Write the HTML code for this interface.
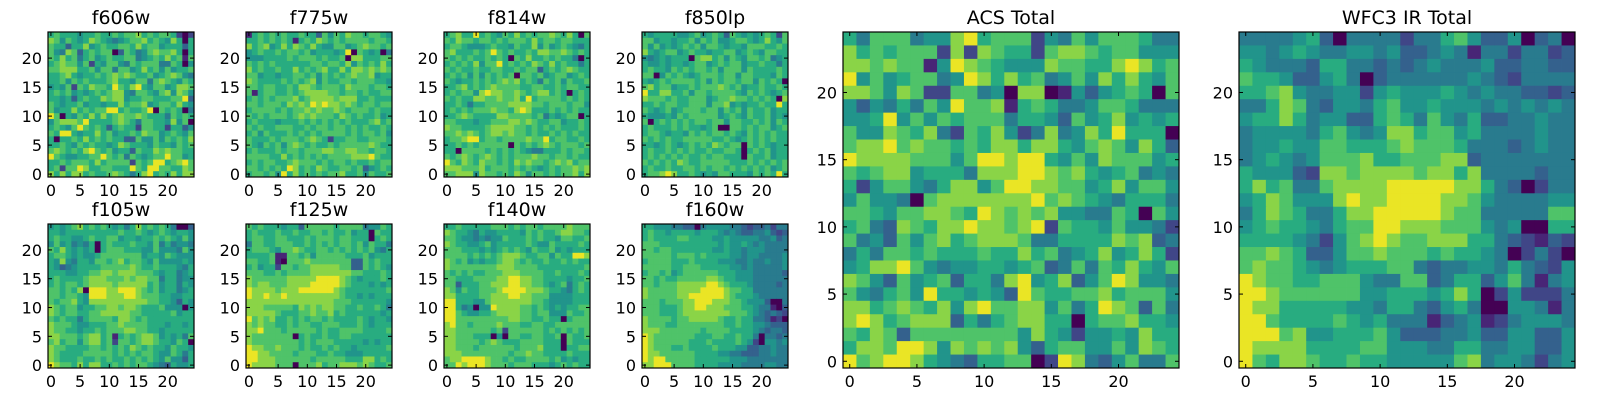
<!DOCTYPE html>
<html><head><meta charset="utf-8"><style>
html,body{margin:0;padding:0;background:#fff;}
svg{display:block;font-family:"DejaVu Sans","Liberation Sans",sans-serif;}
</style></head><body>
<svg id="fig" width="1600" height="400" viewBox="0 0 1600 400" xmlns="http://www.w3.org/2000/svg"></svg>
<script>
// Panel titles
const titles = ["f606w","f775w","f814w","f850lp","f105w","f125w","f140w","f160w","ACS Total","WFC3 IR Total"];
// Tick labels
const tickVals = [0,5,10,15,20];
// Data: rows listed from y=24 (top) down to y=0, digits 0-9 scaled intensity
const d_f606w = ["6766656676676778676776202","8757656876545677867658606","7663668567667768677566636","7548736767703764578778606","7686746756766774567686717","6787757265775476777447605","7788866757747756867575667","6678656676787876675678754","6675767666786657747876576","5657276877697689657756887","6767565676788547765785875","6656367668788566776667793","7656675665668677856776865","7566867677996766790767604","9706576868678778766647676","5788879666678764776658570","6765797676367662776626635","7699656686756676877567657","6066768676766337557576768","6676576766568766657665767","7876768976756637668787766","9765566779767476567797756","6676777686777727679967897","6727798667766697699776687","8686886766787646896768688"];
const d_f775w = ["1676767667663757687767765","6676767616768767677776776","8678568687686557756787767","5676676776756665690765604","5556666767776766708866677","7676766666677677685767686","8676676686767866868878787","7756656677675767678778566","8766667676785766776777665","7767766768876777687776776","7167766767888877677676677","6767677786788887888667666","7767776878798988787677677","6777767677878778767776766","7676777678787776876766756","6766656667676767676667867","7676677766767767767676676","6757666767676777767677675","7666767776787626677667776","7657675787676676777778766","6766676776777887788776776","7777668676767677778889766","6767766787776767767667677","7767676986768766776735676","6776759686767677866757667"];
const d_f814w = ["6786696765768676778768607","7687767767677768677677666","6776555676657668575676546","7866676797676676887787676","7676766767607686676766406","6767685779676768768676646","7676676677667677367678766","6767575767670776756775676","7656676767878676476757667","6678676787777667766767766","6767758988778767886760676","7676688778778696777767676","6676466777788887767776775","6767677787768986667676766","6678766668877776746567706","7766656677788787667756676","8776666788887767676766676","7787876788787767667676766","6778996776777787796776676","6676767777707676787677767","6607777676767654466676776","7678767876767778776776766","9768768776768787767878677","8887778677767676567677878","7788858776768757767677868"];
const d_f850lp = ["6566665567567637656567627","7756656675767556776568657","7575656767577656657776676","8656775676656677567657766","5456566607886757657767456","6556566567756767756676646","6766576767767577757666676","7705767656777677577666576","6567677776757677677576760","7867756676777876756676676","9668866757767777657676567","8777676677756778776767608","6676776677757785656676696","7656756777677576757667566","6555657677777567657667565","7067676767767757766767576","6766676766567007767677567","6776566576767767657676766","7676766777776676567676766","6656765676768767707676566","6766767676676677606767566","6767676766767766607667566","7676768766777776667676767","6766766776767767676767567","6778986676565776665767696"];
const d_f105w = ["5656786767656468676764003","6656666666667667656765665","6766556766775665667676575","5756454606766676657464554","7686565606777666557555475","6776565567777777566576555","6585466577678677657555565","6534566667777787667666546","6665566778878887776566456","6766667888777878877466455","6767767888878888867566465","7767680999889998767566456","7767765999888998777665566","7677865888888888877665365","8767756677887887666755505","8767766778888877666667566","7676646777768876766666666","8777655666778777766656656","8776656676777887766566666","8877767886716767887565647","7867757886727767887665760","8776666776767687676657665","8766667777767676776557646","8766676676766767676575536","9877686886676767765436556"];
const d_f125w = ["7676665663777776777745576","6766676676677676675660766","6776677666767776776660676","4776677766767676776757664","6777657787667767676767546","6666711776757777766675666","7766710777877777773376766","6756627767788888773376765","7776676777788888887766676","8777777888889999876566676","8788777888899999876665656","9888878889999998766666667","9889889888888888766565666","8888888888888887776666665","8887777768787887766766764","8888876667787786766666656","9787866767677676666765665","8787766767766777666765666","8897776777776766777766667","8777777706766766776666666","8777777776767776666656566","9887787776766767665666667","9988777767776676655566666","9988877777767777766688676","9888877707778677888787667"];
const d_f140w = ["6676666677767677677778777","8766546556666576766788776","7765545455766676766577667","8766556756666676557666676","7776665656767657667565666","7777676767888766775766998","8767565667887676676676766","8777777778887777666666667","7676766777888777766766676","7766677778899887766665667","7736667788899887765674676","8757667778999988876654676","8866667788899887775555666","9966655788888887765555666","9964505598888776765656677","9976556678888776775557667","9977777777788776676606777","8977677778777667766777777","8877777767277777767676767","8877766605077667766707667","8877776787666777766607666","8877767777776777866606677","8887777777767787766667666","7889999877676677776756566","7798999877767776665676766"];
const d_f160w = ["6655544330455554432334244","6766566665666545433445323","6766667766665565555544534","7776666666666565565454444","7767766666665565545554444","7777767776766665545544445","6777766676666555445445445","7777766777666665545444445","6776756777777666555444443","7767667777788766555444444","7767778888899876665444434","8777778888999987766444444","8777778899999987666544444","7776777889998887765553004","7776667889988877766544103","7776667888888887776543432","8777767788888766766443120","8777667777777766766554333","8887777777677776666543443","9877777776667766766404434","9877777766676666765205545","9877766766667666553344544","9887777776666554433344544","9899777776666665554444444","8899977776666555544445544"];
const d_acs = ["6477745589677725475777644","8676777282876627887677555","8878771598765558776689867","9575677459868674575868657","8875872277450880153567607","5354647597781676445776444","5569575767774665375685656","7558768427685248458696660","7889787767688688657875863","9888877757998996575877756","7678856664888998786567454","6257754688579988775685775","5755407888888897876546664","7765778876987878554476075","6743876889887892766575542","7453757867888744666687834","4647767666766867456856862","5688975455665673474768657","8753756736648956835798554","7546759665653976677867775","8867876858977885746987374","8986788836467886606778665","7687377777777586525565866","6887998587878536775575876","9789986543667702984357447"];
const d_wfc3 = ["4444563044442446753350340","5545654455453345414424423","6544436644343454445334433","7665335640344444454324444","6678544552565556545443323","4468743554675565554545454","5668645533676475463344544","4555546754588677564444544","4556557766678777644434544","4565457778667778834444444","6555328878888788684444344","6867447888899999886430244","5687555898899998875444455","4687644688999998774444477","5676654677998887775450066","6666542578987788866432132","7787633577877767665402420","7877654566677434455464325","9877667775447734663574145","9987777775566656860252224","9886666655466435640055414","9976666765644413451245554","9997855666753334453355335","9888866667755544664455335","9768876676655555784554245"];
const panelData = [d_f606w,d_f775w,d_f814w,d_f850lp,d_f105w,d_f125w,d_f140w,d_f160w,d_acs,d_wfc3];

const NS="http://www.w3.org/2000/svg";
const svg=document.getElementById('fig');
const vstops=["#440154","#482475","#414487","#355f8d","#2a788e","#21918c","#22a884","#44bf70","#7ad151","#bddf26","#fde725"];
function hex(c){return [parseInt(c.slice(1,3),16),parseInt(c.slice(3,5),16),parseInt(c.slice(5,7),16)];}
function viridis(t){t=Math.max(0,Math.min(1,t));const s=t*10;const i=Math.min(9,Math.floor(s));const f=s-i;const a=hex(vstops[i]),b=hex(vstops[i+1]);return 'rgb('+a.map((v,k)=>Math.round(v+(b[k]-v)*f)).join(',')+')';}
function colorFor(d){return viridis(d>=9?0.97:d*0.103);}
function el(tag,attrs,parent){const e=document.createElementNS(NS,tag);for(const k in attrs)e.setAttribute(k,attrs[k]);(parent||svg).appendChild(e);return e;}

const layout=[[48,32,146,145],[246,32,146,145],[444,32,146,145],[642,32,146,145],
[48,224,146,144],[246,224,146,144],[444,224,146,144],[642,224,146,144],
[843,32,336,336],[1239,32,336,336]];
const names=["f606w","f775w","f814w","f850lp","f105w","f125w","f140w","f160w","acs-total","wfc3-ir-total"];

panelData.forEach((rows,p)=>{
  const [L,T,W,H]=layout[p];
  const n=rows.length;
  const cw=W/n, ch=H/n;
  const xs=v=>L+(v+0.5)*cw;
  const ys=v=>T+H-(v+0.5)*ch;
  const g=el('g',{});
  
  
  rows.forEach((row,ri)=>{
    const yv=n-1-ri;
    for(let xv=0;xv<row.length;xv++){
      const val=+row[xv];
      const r=el('rect',{x:(xs(xv)-cw/2).toFixed(2),y:(ys(yv)-ch/2).toFixed(2),width:(cw+0.4).toFixed(2),height:(ch+0.4).toFixed(2),fill:colorFor(val)},g);
      
      
    }
  });
  const fr=el('rect',{x:L,y:T,width:W,height:H,fill:'none',stroke:'#000','stroke-width':1.2},g);
  
  
  tickVals.forEach(t=>{
    const x=xs(t), y=ys(t);
    el('line',{x1:x,y1:T+H,x2:x,y2:T+H-4,stroke:'#000'},g);
    el('line',{x1:x,y1:T,x2:x,y2:T+4,stroke:'#000'},g);
    el('line',{x1:L,y1:y,x2:L+4,y2:y,stroke:'#000'},g);
    el('line',{x1:L+W,y1:y,x2:L+W-4,y2:y,stroke:'#000'},g);
    const tx=el('text',{x:x,y:T+H+19,'font-size':16,'text-anchor':'middle',fill:'#000'},g);
    tx.textContent=t;
    
    
    const ty=el('text',{x:L-6,y:y+6,'font-size':16,'text-anchor':'end',fill:'#000'},g);
    ty.textContent=t;
    
    
  });
  const tt=el('text',{x:L+W/2,y:T-8,'font-size':19,'text-anchor':'middle',fill:'#000'},g);
  tt.textContent=titles[p];
  
  
});
</script>
</body></html>
